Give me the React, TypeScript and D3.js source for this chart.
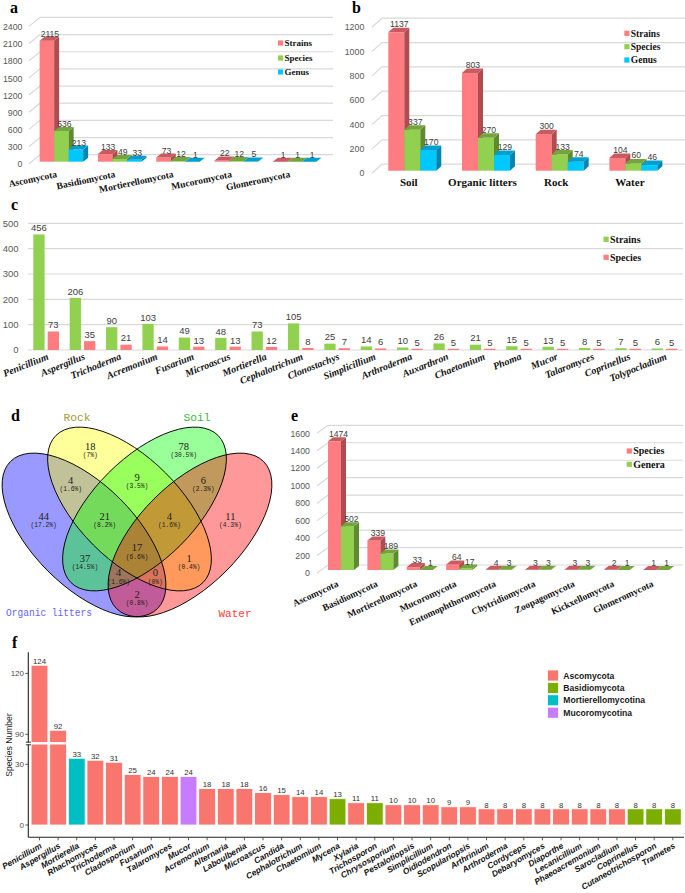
import React, { useEffect } from "react";
import * as d3 from "d3";

const SERIF = "'Liberation Serif','Times New Roman',serif";
const SANS = "'Liberation Sans',Arial,sans-serif";
const MONO = "'Liberation Mono','DejaVu Sans Mono',monospace";

// ================= DATA =================
// panel a
const phylaA = ["Ascomycota", "Basidiomycota", "Mortierellomycota", "Mucoromycota", "Glomeromycota"];
const strainsA = [2115, 133, 73, 22, 1];
const speciesA = [536, 49, 12, 12, 1];
const genusA = [213, 33, 1, 5, 1];
const ticksA = [0, 300, 600, 900, 1200, 1500, 1800, 2100, 2400];

// panel b
const habitatsB = ["Soil", "Organic litters", "Rock", "Water"];
const strainsB = [1137, 803, 300, 104];
const speciesB = [337, 270, 133, 60];
const genusB = [170, 129, 74, 46];
const ticksB = [0, 200, 400, 600, 800, 1000, 1200];

// panel c
const generaC = ["Penicillium", "Aspergillus", "Trichoderma", "Acremonium", "Fusarium", "Microascus", "Mortierella", "Cephalotrichum", "Clonostachys", "Simplicillium", "Arthroderma", "Auxarthron", "Chaetomium", "Phoma", "Mucor", "Talaromyces", "Coprinellus", "Tolypocladium"];
const strainsC = [456, 206, 90, 103, 49, 48, 73, 105, 25, 14, 10, 26, 21, 15, 13, 8, 7, 6];
const speciesC = [73, 35, 21, 14, 13, 13, 12, 8, 7, 6, 5, 5, 5, 5, 5, 5, 5, 5];
const ticksC = [0, 100, 200, 300, 400, 500];

// panel d (membership flags in order: Organic litters, Rock, Soil, Water)
const vennSets = ["Organic litters", "Rock", "Soil", "Water"];
const vennRegions = ["0100", "0010", "1000", "0001", "1100", "0110", "0011", "1110", "0111", "1010", "1111", "0101", "1011", "1101", "1001"];
const vennCounts = [18, 78, 44, 11, 4, 9, 6, 21, 4, 37, 17, 1, 4, 0, 2];

// panel e
const phylaE = ["Ascomycota", "Basidiomycota", "Mortierellomycota", "Mucoromycota", "Entomophthoromycota", "Chytridiomycota", "Zoopagomycota", "Kickxellomycota", "Glomeromycota"];
const speciesE = [1474, 339, 33, 64, 4, 3, 3, 2, 1];
const generaE = [502, 189, 1, 17, 3, 3, 3, 1, 1];
const ticksE = [0, 200, 400, 600, 800, 1000, 1200, 1400, 1600];

// panel f
const generaF = ["Penicillium", "Aspergillus", "Mortierella", "Rhachomyces", "Trichoderma", "Cladosporium", "Fusarium", "Talaromyces", "Mucor", "Acremonium", "Alternaria", "Laboulbenia", "Microascus", "Candida", "Cephalotrichum", "Chaetomium", "Mycena", "Xylaria", "Trichosporon", "Chrysosporium", "Pestalotiopsis", "Simplicillium", "Oidiodendron", "Scopulariopsis", "Arthrinium", "Arthroderma", "Cordyceps", "Debaryomyces", "Diaporthe", "Lecanicillium", "Phaeoacremonium", "Sarocladium", "Coprinellus", "Cutaneotrichosporon", "Trametes"];
const speciesF = [124, 92, 33, 32, 31, 25, 24, 24, 24, 18, 18, 18, 16, 15, 14, 14, 13, 11, 11, 10, 10, 10, 9, 9, 8, 8, 8, 8, 8, 8, 8, 8, 8, 8, 8];
const phylumF = ["Ascomycota", "Ascomycota", "Mortierellomycotina", "Ascomycota", "Ascomycota", "Ascomycota", "Ascomycota", "Ascomycota", "Mucoromycotina", "Ascomycota", "Ascomycota", "Ascomycota", "Ascomycota", "Ascomycota", "Ascomycota", "Ascomycota", "Basidiomycota", "Ascomycota", "Basidiomycota", "Ascomycota", "Ascomycota", "Ascomycota", "Ascomycota", "Ascomycota", "Ascomycota", "Ascomycota", "Ascomycota", "Ascomycota", "Ascomycota", "Ascomycota", "Ascomycota", "Ascomycota", "Basidiomycota", "Basidiomycota", "Basidiomycota"];
const legendF = ["Ascomycota", "Basidiomycota", "Mortierellomycotina", "Mucoromycotina"];
const ticksFLow = [0, 30];
const ticksFHigh = [90, 120];

// ================= STYLES =================
type Col = { front: string; top: string; side: string };
const PINK: Col = { front: "#ff7c80", top: "#c95a5f", side: "#b04b50" };
const GREEN: Col = { front: "#92d050", top: "#74a53d", side: "#5e8a30" };
const CYAN: Col = { front: "#00c8ff", top: "#009fcf", side: "#0085b0" };
const F_COLORS = ["#F8766D", "#7CAE00", "#00BFC4", "#C77CFF"];

function Bar3D({ x, w, yTop, y0, dx, dy, col }: { x: number; w: number; yTop: number; y0: number; dx: number; dy: number; col: Col }) {
  return (
    <g>
      <rect x={x} y={yTop} width={w} height={Math.max(0, y0 - yTop)} fill={col.front} />
      <polygon points={`${x + w},${yTop} ${x + w + dx},${yTop + dy} ${x + w + dx},${y0 + dy} ${x + w},${y0}`} fill={col.side} />
      <polygon points={`${x},${yTop} ${x + dx},${yTop + dy} ${x + w + dx},${yTop + dy} ${x + w},${yTop}`} fill={col.top} />
    </g>
  );
}

interface Series3D { name: string; vals: number[]; col: Col }
interface P3D {
  cats: string[]; series: Series3D[]; yDom: [number, number]; yRange: [number, number]; ticks: number[];
  xRange: [number, number]; pi: number; po: number;
  gridLeft: number; wallDx: number; wallFront: number; wallBack: number; gridRight: number;
  tickRight: number; tickDy: number; barDx: number; barDy: number; valDx: number; valDy: number;
  valSize: number; tickSize: number; legSize: number;
  catLabel: (cx: number, name: string) => React.ReactNode;
  legendX: number; legendY: number[];
}

function Panel3D(p: P3D) {
  const y = d3.scaleLinear().domain(p.yDom).range(p.yRange);
  const x = d3.scaleBand<string>().domain(p.cats).range(p.xRange).paddingInner(p.pi).paddingOuter(p.po);
  const bw = x.bandwidth() / p.series.length;
  const y0 = y(0);
  return (
    <g>
      {p.ticks.map((t) => {
        const yy = y(t);
        return (
          <g key={"t" + t}>
            <polyline points={`${p.gridLeft},${yy + p.wallFront} ${p.gridLeft + p.wallDx},${yy + p.wallBack} ${p.gridRight},${yy + p.wallBack}`} fill="none" stroke="#d9d9d9" strokeWidth={1.2} />
            <text x={p.tickRight} y={yy + p.tickDy} textAnchor="end" fontFamily={SANS} fontSize={p.tickSize} fill="#595959">{t}</text>
          </g>
        );
      })}
      {p.cats.map((c, i) => (
        <g key={c}>
          {p.series.map((s, j) => (
            <Bar3D key={j} x={(x(c) as number) + j * bw} w={bw} yTop={y(s.vals[i])} y0={y0} dx={p.barDx} dy={p.barDy} col={s.col} />
          ))}
        </g>
      ))}
      {p.cats.map((c, i) => (
        <g key={"v" + c}>
          {p.series.map((s, j) => (
            <text key={j} x={(x(c) as number) + j * bw + bw / 2 + p.valDx} y={y(s.vals[i]) + p.valDy} textAnchor="middle" fontFamily={SANS} fontSize={p.valSize} fill="#404040">{s.vals[i]}</text>
          ))}
        </g>
      ))}
      {p.cats.map((c) => (
        <g key={"c" + c}>{p.catLabel((x(c) as number) + x.bandwidth() / 2, c)}</g>
      ))}
      {p.series.map((s, j) => (
        <g key={"l" + j}>
          <rect x={p.legendX} y={p.legendY[j] - 2.6} width={5.2} height={5.2} fill={s.col.front} />
          <text x={p.legendX + 6.5} y={p.legendY[j] + 3.3} fontFamily={SERIF} fontWeight="bold" fontSize={p.legSize} fill="#111">{s.name}</text>
        </g>
      ))}
    </g>
  );
}

function PanelC() {
  const y = d3.scaleLinear().domain([0, 500]).range([350, 223.3]);
  const x = d3.scaleBand<string>().domain(generaC).range([29.66, 681]).paddingInner(0.294).paddingOuter(0.1);
  const bw = 11.3;
  const gap = x.bandwidth() - 2 * bw;
  const series = [{ name: "Strains", vals: strainsC, col: "#92d050" }, { name: "Species", vals: speciesC, col: "#ff7c80" }];
  return (
    <g>
      {ticksC.map((t) => (
        <g key={t}>
          <line x1={28} x2={683} y1={y(t)} y2={y(t)} stroke="#d9d9d9" strokeWidth={1.2} />
          <text x={18.5} y={y(t) + 3.4} textAnchor="end" fontFamily={SANS} fontSize={9.5} fill="#595959">{t}</text>
        </g>
      ))}
      {generaC.map((g, i) => (
        <g key={g}>
          {series.map((s, j) => {
            const bx = (x(g) as number) + j * (bw + gap);
            const yt = y(s.vals[i]);
            return (
              <g key={j}>
                <rect x={bx} y={yt} width={bw} height={y(0) - yt} fill={s.col} />
                <text x={bx + bw / 2} y={yt - 3.2} textAnchor="middle" fontFamily={SANS} fontSize={9.5} fill="#404040">{s.vals[i]}</text>
              </g>
            );
          })}
          <text transform={`translate(${(x(g) as number) + x.bandwidth() / 2 + 3},359) rotate(-22)`} textAnchor="end" fontFamily={SERIF} fontWeight="bold" fontStyle="italic" fontSize={10} fill="#111">{g}</text>
        </g>
      ))}
      {series.map((s, j) => (
        <g key={"l" + j}>
          <rect x={603.5} y={239.3 + j * 18 - 2.6} width={5.2} height={5.2} fill={s.col} />
          <text x={610} y={239.3 + j * 18 + 3.4} fontFamily={SERIF} fontWeight="bold" fontSize={10} fill="#111">{s.name}</text>
        </g>
      ))}
    </g>
  );
}

// Venn layout (ellipse geometry), order follows vennSets
const vennShapes = [
  { cx: 84, cy: 535, rx: 104, ry: 51, rot: 45, fill: "#0000ff", text: "#6464ff", lx: 49, ly: 616, lw: 86 },
  { cx: 129.5, cy: 509, rx: 104, ry: 51, rot: 45, fill: "#ffff00", text: "#a39b3a", lx: 77, ly: 420.5, lw: 27 },
  { cx: 144.5, cy: 509, rx: 104, ry: 51, rot: -45, fill: "#00ff00", text: "#3cb43c", lx: 197, ly: 420.5, lw: 27 },
  { cx: 190, cy: 535, rx: 104, ry: 51, rot: -45, fill: "#ff0000", text: "#ff3c3c", lx: 235, ly: 617, lw: 33 },
];

function inside(s: typeof vennShapes[0], x: number, y: number) {
  const a = (s.rot * Math.PI) / 180;
  const dx = x - s.cx, dy = y - s.cy;
  const u = dx * Math.cos(a) + dy * Math.sin(a);
  const v = -dx * Math.sin(a) + dy * Math.cos(a);
  return (u * u) / (s.rx * s.rx) + (v * v) / (s.ry * s.ry) <= 1;
}

function PanelD() {
  const total = d3.sum(vennCounts);
  const acc: Record<string, { sx: number; sy: number; n: number }> = {};
  for (let x = 0; x <= 280; x += 1) {
    for (let y = 420; y <= 630; y += 1) {
      const key = vennShapes.map((s) => (inside(s, x, y) ? "1" : "0")).join("");
      if (key === "0000") continue;
      if (!acc[key]) acc[key] = { sx: 0, sy: 0, n: 0 };
      acc[key].sx += x; acc[key].sy += y; acc[key].n += 1;
    }
  }
  return (
    <g>
      {vennShapes.map((s, i) => (
        <ellipse key={i} cx={s.cx} cy={s.cy} rx={s.rx} ry={s.ry} transform={`rotate(${s.rot} ${s.cx} ${s.cy})`} fill={s.fill} fillOpacity={0.4} stroke="none" />
      ))}
      {vennShapes.map((s, i) => (
        <ellipse key={"o" + i} cx={s.cx} cy={s.cy} rx={s.rx} ry={s.ry} transform={`rotate(${s.rot} ${s.cx} ${s.cy})`} fill="none" stroke="#000" strokeWidth={0.9} />
      ))}
      {vennRegions.map((r, i) => {
        const a = acc[r];
        if (!a) return null;
        const cx = a.sx / a.n, cy = a.sy / a.n;
        const pct = Math.round((vennCounts[i] / total) * 1000) / 10;
        return (
          <g key={r}>
            <text x={cx} y={cy - 0.5} textAnchor="middle" fontFamily={SERIF} fontSize={10.5} fill="#222">{vennCounts[i]}</text>
            <text x={cx} y={cy + 6.8} textAnchor="middle" fontFamily={MONO} fontSize={6.3} fill="#222">({pct}%)</text>
          </g>
        );
      })}
      {vennSets.map((name, i) => {
        const s = vennShapes[i];
        return (
          <text key={name} x={s.lx} y={s.ly} textAnchor="middle" fontFamily={MONO} fontSize={11} fill={s.text} textLength={s.lw} lengthAdjust="spacingAndGlyphs">{name}</text>
        );
      })}
    </g>
  );
}

function PanelF() {
  const x = d3.scaleBand<string>().domain(generaF).range([28.3, 684]).paddingInner(0.1).paddingOuter(0.15);
  const yLow = d3.scaleLinear().domain([0, 30]).range([825, 764.3]);
  const yHigh = d3.scaleLinear().domain([90, 120]).range([734.3, 673.4]);
  const lowMax = 40, highMin = 86;
  const color = d3.scaleOrdinal<string, string>().domain(legendF).range(F_COLORS);
  const axisY = 837.3, axX = 28.3;
  return (
    <g>
      {generaF.map((g, i) => {
        const v = speciesF[i];
        const bx = x(g) as number;
        const w = x.bandwidth();
        const c = color(phylumF[i]);
        const lowTop = yLow(Math.min(v, lowMax));
        const topY = v > lowMax ? yHigh(v) : yLow(v);
        return (
          <g key={g}>
            <rect x={bx} y={lowTop} width={w} height={yLow(0) - lowTop} fill={c} stroke="#fff" strokeWidth={0.8} />
            {v > lowMax && <rect x={bx} y={yHigh(v)} width={w} height={yHigh(highMin) - yHigh(v)} fill={c} stroke="#fff" strokeWidth={0.8} />}
            <text x={bx + w / 2} y={topY - 1.3} textAnchor="middle" fontFamily={SANS} fontSize={7.8} fill="#333">{v}</text>
            <line x1={bx + w / 2} x2={bx + w / 2} y1={axisY} y2={axisY + 3} stroke="#333" strokeWidth={0.8} />
            <text transform={`translate(${bx + w / 2 + 3},847.5) rotate(-30)`} textAnchor="end" fontFamily={SANS} fontWeight="bold" fontStyle="italic" fontSize={8.4} fill="#111">{g}</text>
          </g>
        );
      })}
      <line x1={axX} x2={axX} y1={652.3} y2={742.4} stroke="#222" strokeWidth={1.1} />
      <line x1={axX} x2={axX} y1={744.6} y2={axisY} stroke="#222" strokeWidth={1.1} />
      <line x1={25.8} x2={31} y1={742.2} y2={742.2} stroke="#222" strokeWidth={0.9} />
      <line x1={25.8} x2={31} y1={744.8} y2={744.8} stroke="#222" strokeWidth={0.9} />
      <line x1={axX} x2={684} y1={axisY} y2={axisY} stroke="#222" strokeWidth={1.1} />
      {ticksFLow.map((t) => (
        <g key={"l" + t}>
          <line x1={25.3} x2={axX} y1={yLow(t)} y2={yLow(t)} stroke="#333" strokeWidth={0.8} />
          <text x={24} y={yLow(t) + 2.8} textAnchor="end" fontFamily={SANS} fontSize={8} fill="#4d4d4d">{t}</text>
        </g>
      ))}
      {ticksFHigh.map((t) => (
        <g key={"h" + t}>
          <line x1={25.3} x2={axX} y1={yHigh(t)} y2={yHigh(t)} stroke="#333" strokeWidth={0.8} />
          <text x={24} y={yHigh(t) + 2.8} textAnchor="end" fontFamily={SANS} fontSize={8} fill="#4d4d4d">{t}</text>
        </g>
      ))}
      <text transform="translate(12,745) rotate(-90)" textAnchor="middle" fontFamily={SANS} fontSize={8.6} fill="#1a1a1a">Species Number</text>
      {legendF.map((l, i) => (
        <g key={l}>
          <rect x={547.5} y={670 + i * 12.4} width={11} height={11} fill={color(l)} stroke="#fff" strokeWidth={0.8} />
          <text x={563.3} y={670 + i * 12.4 + 8.6} fontFamily={SANS} fontWeight="bold" fontSize={8.6} fill="#1a1a1a">{l}</text>
        </g>
      ))}
    </g>
  );
}

export default function App() {
  useEffect(() => {
    document.body.style.margin = "0";
  }, []);
  const panelLetter = (t: string, x: number, y: number) => (
    <text x={x} y={y} fontFamily={SERIF} fontWeight="bold" fontSize={16} fill="#000">{t}</text>
  );
  return (
    <svg width={685} height={893} viewBox="0 0 685 893" style={{ position: "absolute", left: 0, top: 0, background: "#fff" }}>
      <rect x={0} y={0} width={685} height={893} fill="#fff" />
      {panelLetter("a", 10, 13)}
      {panelLetter("b", 352, 13)}
      {panelLetter("c", 11, 210)}
      {panelLetter("d", 11, 421)}
      {panelLetter("e", 291, 421)}
      {panelLetter("f", 12, 648)}

      <Panel3D
        cats={phylaA}
        series={[{ name: "Strains", vals: strainsA, col: PINK }, { name: "Species", vals: speciesA, col: GREEN }, { name: "Genus", vals: genusA, col: CYAN }]}
        yDom={[0, 2400]} yRange={[161.7, 24.4]} ticks={ticksA}
        xRange={[26, 330]} pi={0.254} po={0.234}
        gridLeft={29} wallDx={11} wallFront={2} wallBack={-7} gridRight={333}
        tickRight={22.5} tickDy={5.7} barDx={5} barDy={-4} valDx={3} valDy={-4}
        valSize={8.6} tickSize={8.8} legSize={9}
        catLabel={(cx, name) => (
          <text transform={`translate(${cx - 4},177) rotate(-12)`} textAnchor="end" fontFamily={SERIF} fontWeight="bold" fontSize={9.5} fill="#111">{name}</text>
        )}
        legendX={278} legendY={[43, 58, 72]}
      />

      <Panel3D
        cats={habitatsB}
        series={[{ name: "Strains", vals: strainsB, col: PINK }, { name: "Species", vals: speciesB, col: GREEN }, { name: "Genus", vals: genusB, col: CYAN }]}
        yDom={[0, 1200]} yRange={[170.7, 24.7]} ticks={ticksB}
        xRange={[373.56, 672.1]} pi={0.349} po={0.2}
        gridLeft={372} wallDx={10} wallFront={2.5} wallBack={-6.5} gridRight={685}
        tickRight={364.3} tickDy={5.5} barDx={5} barDy={-4.5} valDx={3} valDy={-5}
        valSize={8.6} tickSize={8.8} legSize={9.5}
        catLabel={(cx, name) => (
          <text x={cx - 3.5} y={186} textAnchor="middle" fontFamily={SERIF} fontWeight="bold" fontSize={11} fill="#111">{name}</text>
        )}
        legendX={624.3} legendY={[33.3, 46.7, 60]}
      />

      <PanelC />
      <PanelD />

      <Panel3D
        cats={phylaE}
        series={[{ name: "Species", vals: speciesE, col: PINK }, { name: "Genera", vals: generaE, col: GREEN }]}
        yDom={[0, 1600]} yRange={[570, 430.3]} ticks={ticksE}
        xRange={[318.15, 679]} pi={0.34} po={0.25}
        gridLeft={317} wallDx={11} wallFront={3} wallBack={-5} gridRight={683}
        tickRight={310} tickDy={6.2} barDx={5} barDy={-4} valDx={4} valDy={-4}
        valSize={8.6} tickSize={8.8} legSize={10}
        catLabel={(cx, name) => (
          <text transform={`translate(${cx - 2},586) rotate(-25)`} textAnchor="end" fontFamily={SERIF} fontWeight="bold" fontSize={9.5} fill="#111">{name}</text>
        )}
        legendX={626.7} legendY={[451, 464.3]}
      />

      <PanelF />
    </svg>
  );
}
